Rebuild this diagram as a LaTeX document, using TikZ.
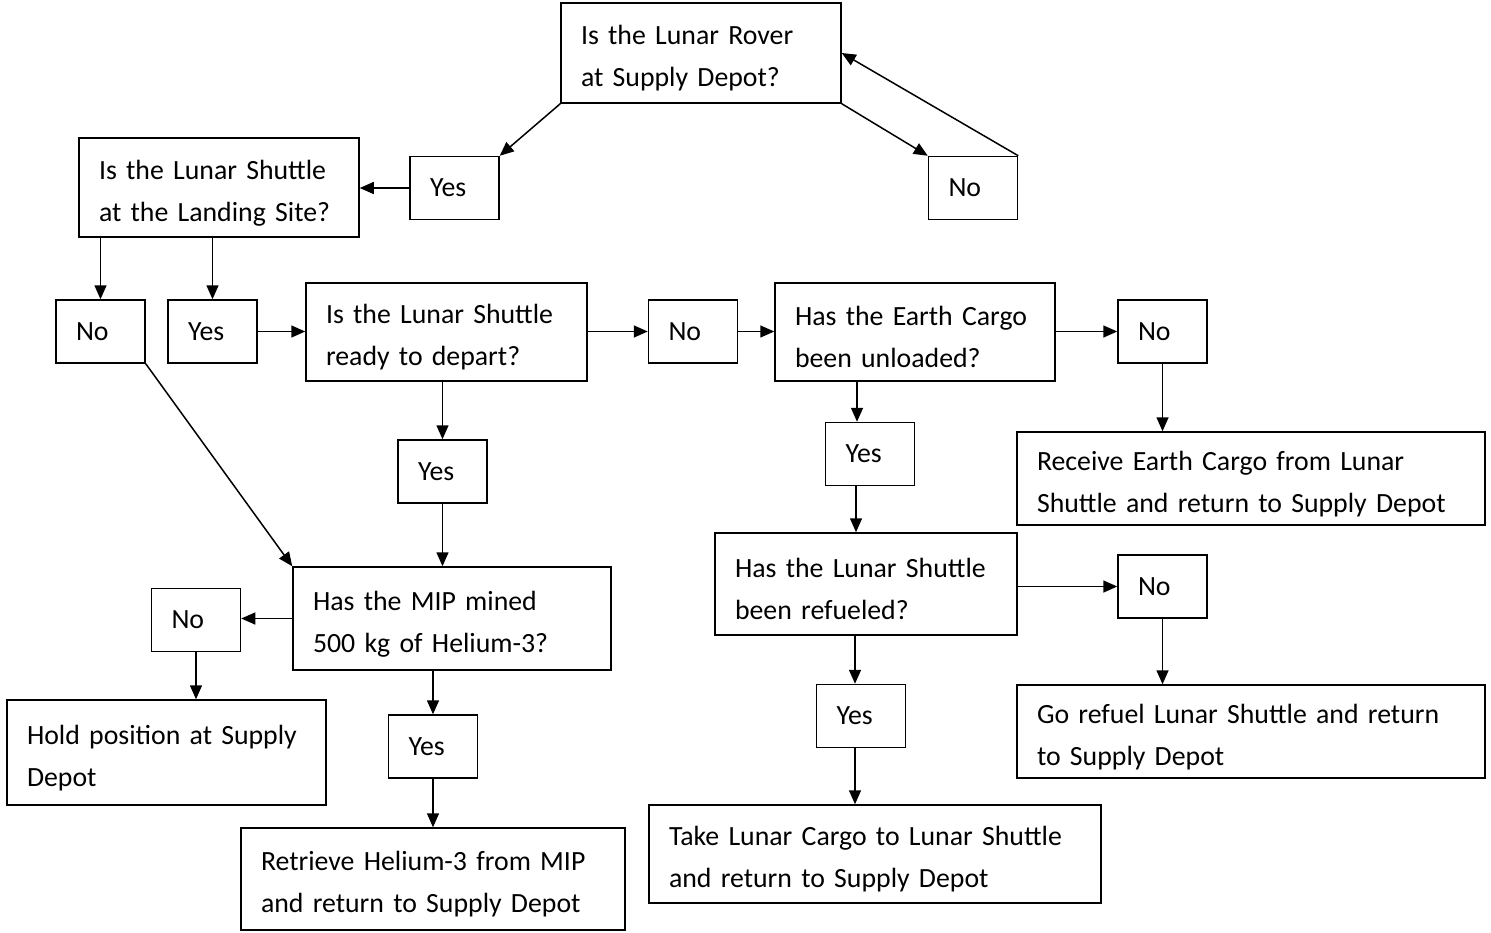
\documentclass[tikz,border=0pt]{standalone}
\usepackage{fontspec}
\setmainfont{Carlito}
\usetikzlibrary{arrows.meta}

\begin{document}
\begin{tikzpicture}[
			x=0.5pt, y=-0.5pt,
			base/.style={draw, rectangle, line width=0.75pt, align=left, inner xsep=10pt, inner ysep=2pt, font=\fontsize{13.9}{21}\selectfont},
			qbox/.style={base, execute at begin node={\rule{0pt}{15pt}}},
			ans/.style={base, text width=24.5pt, minimum height=31.5pt},
			arrow/.style={-{Triangle[length=7pt, width=6pt]}, line width=0.75pt}
			]
			\useasboundingbox (0,0) rectangle (1491,932);
			% Questions
			\node[qbox, text width=120pt, minimum height=50pt] (rover) at (701,53) {Is the Lunar Rover\\at Supply Depot?};
			\node[qbox, text width=120pt, minimum height=49.5pt] (landing) at (219,187.5) {Is the Lunar Shuttle\\at the Landing Site?};
			\node[qbox, text width=120.5pt, minimum height=49pt] (ready) at (446.5,332) {Is the Lunar Shuttle\\ready to depart?};
			\node[qbox, text width=120pt, minimum height=49pt] (earth) at (915,332) {Has the Earth Cargo\\been unloaded?};
			\node[qbox, text width=131pt, minimum height=51pt] (refueled) at (866,584) {Has the Lunar Shuttle\\been refueled?};
			\node[qbox, text width=139pt, minimum height=51.5pt] (mip) at (452,618.5) {Has the MIP mined\\500 kg of Helium-3?};
			
			% Answers
			\node[ans] (yesA) at (454.5,188) {Yes};
			\node[ans] (noA) at (973,188) {No};
			\node[ans] (noB) at (100.5,331.5) {No};
			\node[ans] (yesB) at (212.5,331.5) {Yes};
			\node[ans] (noC) at (693,331.5) {No};
			\node[ans] (noD) at (1162.5,331.5) {No};
			\node[ans] (yesC) at (442.5,471.5) {Yes};
			\node[ans] (yesD) at (870,454) {Yes};
			\node[ans] (noE) at (1162.5,586.5) {No};
			\node[ans] (noF) at (196,620) {No};
			\node[ans] (yesE) at (433,746.5) {Yes};
			\node[ans] (yesF) at (861,716) {Yes};
			
			% Actions
			\node[qbox, text width=214pt, minimum height=46.5pt] (receive) at (1251,478.5) {Receive Earth Cargo from Lunar\\Shuttle and return to Supply Depot};
			\node[qbox, text width=214pt, minimum height=46.5pt] (refuel) at (1251,731.5) {Go refuel Lunar Shuttle and return\\to Supply Depot};
			\node[qbox, text width=139.5pt, minimum height=52.5pt] (hold) at (166.5,752.5) {Hold position at Supply\\Depot};
			\node[qbox, text width=172pt, minimum height=51pt] (retrieve) at (433,879) {Retrieve Helium-3 from MIP\\and return to Supply Depot};
			\node[qbox, text width=206pt, minimum height=49pt] (take) at (875,854) {Take Lunar Cargo to Lunar Shuttle\\and return to Supply Depot};
			
			% Arrows
			\draw[arrow] (rover.south west) -- (yesA.north east);
			\draw[arrow] (rover.south east) -- (noA.north west);
			\draw[arrow] (noA.north east) -- (rover.east);
			\draw[arrow] (yesA.west) -- (yesA.west -| landing.east);
			\draw[arrow] (noB.north |- landing.south) -- (noB.north);
			\draw[arrow] (yesB.north |- landing.south) -- (yesB.north);
			\draw[arrow] (yesB.east) -- (yesB.east -| ready.west);
			\draw[arrow] (noC.west -| ready.east) -- (noC.west);
			\draw[arrow] (noC.east) -- (noC.east -| earth.west);
			\draw[arrow] (noD.west -| earth.east) -- (noD.west);
			\draw[arrow] (noD.south) -- (noD.south |- receive.north);
			\draw[arrow] (yesC.north |- ready.south) -- (yesC.north);
			\draw[arrow] (yesC.south) -- (yesC.south |- mip.north);
			\draw[arrow] (noB.south east) -- (mip.north west);
			\draw[arrow] ([xshift=-6.5pt]yesD.north |- earth.south) -- ([xshift=-6.5pt]yesD.north);
			\draw[arrow] ([xshift=-7pt]yesD.south) -- ([xshift=-7pt]yesD.south |- refueled.north);
			\draw[arrow] (noE.west -| refueled.east) -- (noE.west);
			\draw[arrow] (noE.south) -- (noE.south |- refuel.north);
			\draw[arrow] ([xshift=-3pt]yesF.north |- refueled.south) -- ([xshift=-3pt]yesF.north);
			\draw[arrow] ([xshift=-3pt]yesF.south) -- ([xshift=-3pt]yesF.south |- take.north);
			\draw[arrow] (mip.west) -- (mip.west -| noF.east);
			\draw[arrow] (noF.south) -- (noF.south |- hold.north);
			\draw[arrow] (yesE.north |- mip.south) -- (yesE.north);
			\draw[arrow] (yesE.south) -- (yesE.south |- retrieve.north);
		\end{tikzpicture}
\end{document}
